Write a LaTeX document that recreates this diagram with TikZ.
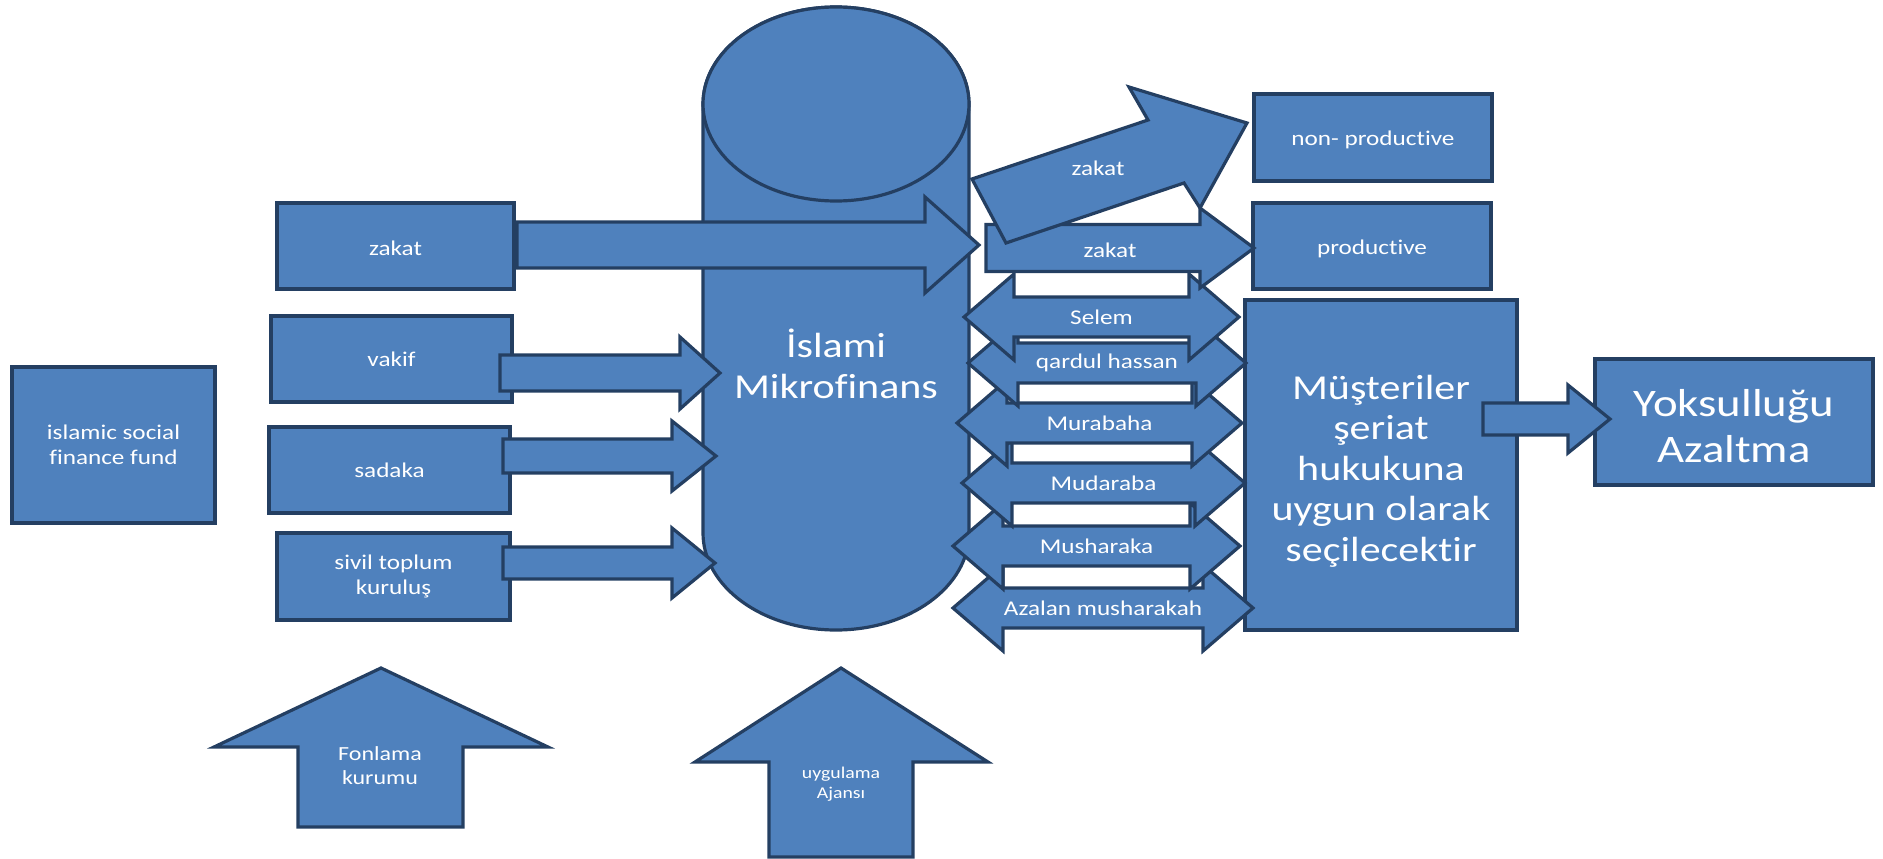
\documentclass[tikz,border=0pt]{standalone}
\usepackage{fontspec}
\setmainfont{Carlito}[FakeStretch=1.2,Ligatures=NoCommon]
\definecolor{boxfill}{RGB}{79,129,189}
\definecolor{boxline}{RGB}{36,63,98}
\newcommand\lowered[2]{\raisebox{0pt}[\dimexpr\height+#1\relax]{#2}}
\begin{document}
\begin{tikzpicture}[x=1pt,y=-1pt,
  blk/.style={fill=boxfill,draw=boxline,line width=3.2pt},
  lbl/.style={text=white,align=center,font=\fontsize{21}{25.5}\selectfont},
  box/.style={blk,lbl,rectangle,inner sep=0pt},
  bigtext/.style={font=\fontsize{35}{40.5}\selectfont}]
\useasboundingbox (0,0) rectangle (1883,859);
\node[box,minimum width=203pt,minimum height=156pt] (fund) at (113.5,445) {islamic social\\finance fund};
\node[box,minimum width=237pt,minimum height=86pt] (zakat) at (395.5,246) {\lowered{4pt}{zakat}};
\node[box,minimum width=241pt,minimum height=86pt] (vakif) at (391.5,359) {vakif};
\node[box,minimum width=241pt,minimum height=86pt] (sadaka) at (389.5,470) {sadaka};
\node[box,minimum width=233pt,minimum height=87pt] (sivil) at (393.5,576.5) {sivil toplum\\kuruluş};
\draw[blk] (703,104) -- (703,533) arc[start angle=180,end angle=360,x radius=133pt,y radius=97pt] -- (969,104) arc[start angle=0,end angle=180,x radius=133pt,y radius=97pt] -- cycle;
\draw[blk] (836,104) ellipse[x radius=133pt,y radius=97pt];
\node[lbl,bigtext] (mikro) at (836,364) {İslami\\Mikrofinans};
\draw[blk] (517,222) -- (925,222) -- (925,197) -- (979,245) -- (925,293) -- (925,268) -- (517,268) -- cycle;
\draw[blk] (500,355) -- (680,355) -- (680,337) -- (720,373) -- (680,409) -- (680,391) -- (500,391) -- cycle;
\draw[blk] (503,439) -- (672,439) -- (672,421) -- (716,456) -- (672,491) -- (672,473) -- (503,473) -- cycle;
\draw[blk] (503,547) -- (672,547) -- (672,528) -- (715,563) -- (672,598) -- (672,579) -- (503,579) -- cycle;
\node[box,minimum width=238pt,minimum height=87pt] (nonprod) at (1373,137.5) {\lowered{4pt}{non- product\kern0pt ive}};
\node[box,minimum width=238pt,minimum height=86pt] (prod) at (1372,246) {\lowered{6pt}{product\kern0pt ive}};
\node[box,bigtext,minimum width=272pt,minimum height=330pt] (musteri) at (1381,465) {\lowered{12pt}{\parbox{250pt}{\centering Müşteriler\\şeriat\\hukukuna\\uygun olarak\\seçilecekt\kern0pt ir}}};
\node[box,font=\fontsize{39}{46}\selectfont,minimum width=278pt,minimum height=126pt] (yoksul) at (1734,422) {\lowered{8pt}{\parbox{260pt}{\centering Yoksulluğu\\Azaltma}}};
\foreach \yc/\xl/\xr/\txt [count=\i] in {608/953/1253/Azalan musharakah, 546/953/1240/Musharaka, 483/962/1245/Mudaraba, 423/957/1242/Murabaha, 363/968/1246/qardul hassan, 317/964/1239/Selem}
{\draw[blk] (\xl,\yc) -- ({\xl+50},{\yc-43}) -- ({\xl+50},{\yc-20}) -- ({\xr-50},{\yc-20}) -- ({\xr-50},{\yc-43}) -- (\xr,\yc) -- ({\xr-50},{\yc+43}) -- ({\xr-50},{\yc+20}) -- ({\xl+50},{\yc+20}) -- ({\xl+50},{\yc+43}) -- cycle;
\node[lbl] (deal\i) at ({(\xl+\xr)/2},\yc) {\txt};}
\draw[blk] (986,224.5) -- (1200,224.5) -- (1200,208) -- (1254,248) -- (1200,288) -- (1200,271.5) -- (986,271.5) -- cycle;
\node[lbl] (zakatprod) at (1110,250) {zakat};
\draw[blk] (972,179) -- (1148,120) -- (1129,87) -- (1247,123) -- (1200,208) -- (1184,183) -- (1006,243) -- cycle;
\node[lbl] (zakatnon) at (1098,168) {zakat};
\draw[blk] (1483,403) -- (1568,403) -- (1568,385) -- (1610,419) -- (1568,453) -- (1568,435) -- (1483,435) -- cycle;
\draw[blk] (381,668) -- (548,747) -- (463,747) -- (463,827) -- (298,827) -- (298,747) -- (214,747) -- cycle;
\node[lbl,font=\fontsize{20}{24}\selectfont] (fonlama) at (380,766) {Fonlama\\kurumu};
\draw[blk] (841,668) -- (988,762) -- (913,762) -- (913,857) -- (769,857) -- (769,762) -- (695,762) -- cycle;
\node[lbl,font=\fontsize{16.5}{20}\selectfont] (ajans) at (841,784) {uygulama\\Ajansı};
\end{tikzpicture}
\end{document}
